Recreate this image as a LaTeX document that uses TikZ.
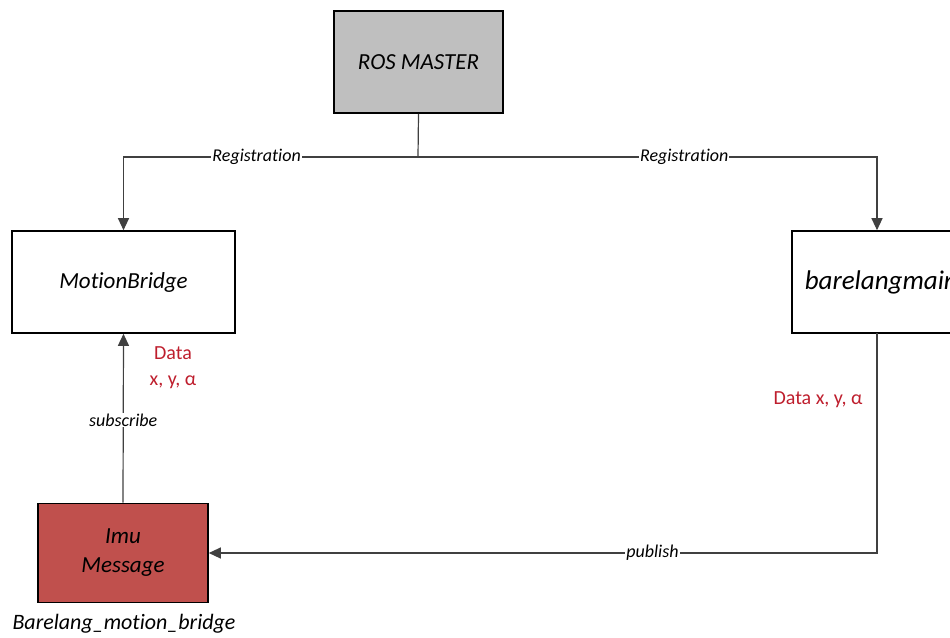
\documentclass[tikz,border=0pt]{standalone}
\usepackage{fontspec}
\setmainfont[Ligatures=NoCommon]{Carlito}
\usetikzlibrary{arrows.meta}
\definecolor{mastergray}{HTML}{BFBFBF}
\definecolor{imured}{HTML}{C0504D}
\definecolor{datared}{HTML}{BE1E2D}
\definecolor{conn}{HTML}{404040}
\tikzset{
  box/.style={draw=black, line width=1.6pt, inner sep=0pt, font=\fontsize{23}{29}\selectfont\itshape, align=center},
  link/.style={draw=conn, line width=1.2pt},
  tip/.style={-{Triangle[length=12pt,width=11pt]}},
  lbl/.style={fill=white, inner sep=1pt, font=\fontsize{18}{22}\selectfont\itshape},
  datalbl/.style={text=datared, font=\fontsize{20}{26}\selectfont, align=center, inner sep=0pt}
}
\begin{document}
\begin{tikzpicture}[x=1pt,y=-1pt]
\useasboundingbox (0,0) rectangle (950,637);
\node[box, fill=mastergray, minimum width=169pt, minimum height=102pt] (master) at (418.5,62) {ROS MASTER};
\node[box, fill=white, minimum width=223pt, minimum height=102pt] (mb) at (123.5,282) {MotionBridge};
\node[box, fill=white, minimum width=220pt, minimum height=102pt, anchor=west, text width=200pt, align=left, inner xsep=13pt, font=\fontsize{27}{31}\selectfont\itshape] (bm) at (791,282) {barelangmain};
\node[box, fill=imured, minimum width=170pt, minimum height=99pt] (imu) at (123,553) {Imu\\Message};
\node[font=\fontsize{22}{26}\selectfont\itshape, inner sep=0pt] (imucap) at (124,624) {Barelang\_motion\_bridge};
\coordinate (split) at (418,157);
\draw[link] (master.south) -- (split);
\draw[link, tip] (split) -| node[lbl, pos=0.274] (reg1) {Registration} (mb.north);
\draw[link, tip] (split) -| node[lbl, pos=0.29] (reg2) {Registration} (bm.north -| 877,0);
\draw[link, tip] (imu.north) -- node[lbl, pos=0.49] (sub) {subscribe} (mb.south);
\coordinate (bmout) at (877,333);
\draw[link, tip] (bmout) |- node[lbl, pos=0.668] (pub) {publish} (imu.east);
\node[datalbl] (data1) at (173,368) {Data\\x, y, α};
\node[datalbl] (data2) at (818,400) {Data x, y, α};
\end{tikzpicture}
\end{document}
